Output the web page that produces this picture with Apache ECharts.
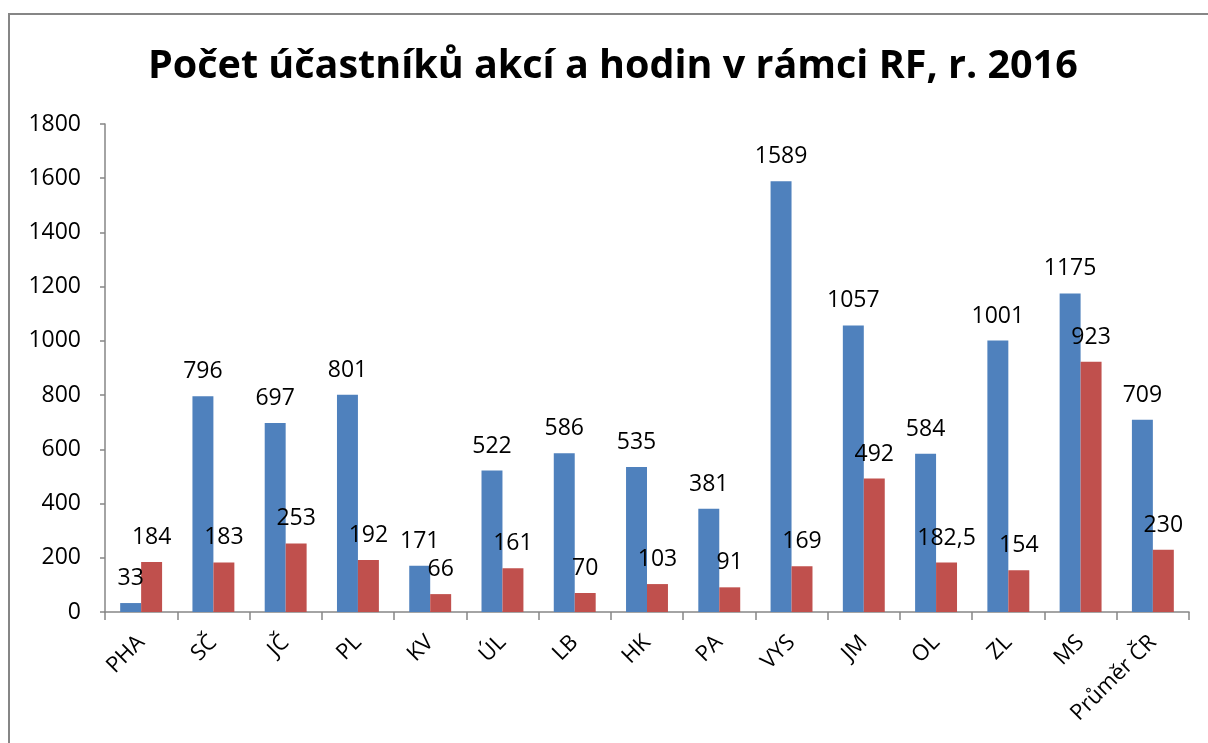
<!DOCTYPE html>
<html>
<head>
<meta charset="utf-8">
<script src="https://cdn.jsdelivr.net/npm/echarts@6/dist/echarts.min.js"></script>
<style>
  html, body { margin: 0; padding: 0; background: #fff; }
  #frame { position: absolute; left: 8px; top: 13px; width: 1300px; height: 800px;
           border-left: 2px solid #868686; border-top: 2px solid #868686; }
  #chart { position: absolute; left: 0; top: 0; width: 1208px; height: 743px; }
</style>
</head>
<body>
<div id="frame"></div>
<div id="chart"></div>
<script>
const categories = ['PHA', 'SČ', 'JČ', 'PL', 'KV', 'ÚL', 'LB', 'HK', 'PA', 'VYS', 'JM', 'OL', 'ZL', 'MS', 'Průměr ČR'];
const participants = [33, 796, 697, 801, 171, 522, 586, 535, 381, 1589, 1057, 584, 1001, 1175, 709];
const hours = [184, 183, 253, 192, 66, 161, 70, 103, 91, 169, 492, 182.5, 154, 923, 230];
const yTicks = [0, 200, 400, 600, 800, 1000, 1200, 1400, 1600, 1800];

const font = '"Open Sans", "Liberation Sans", sans-serif';
const chart = echarts.init(document.getElementById('chart'));

const barLabel = {
  show: true,
  position: 'top',
  distance: 13,
  color: '#000',
  fontFamily: font,
  fontSize: 23,
  formatter: p => String(p.value).replace('.', ',')
};

chart.setOption({
  animation: false,
  title: {
    text: 'Počet účastníků akcí a hodin v rámci RF, r. 2016',
    left: 143,
    top: 42,
    textStyle: { fontFamily: font, fontSize: 39.5, fontWeight: 'bold', color: '#000' }
  },
  grid: { left: 105, right: 19, top: 124, bottom: 131 },
  xAxis: {
    type: 'category',
    data: categories,
    axisLine: { lineStyle: { color: '#868686', width: 1.5 } },
    axisTick: { show: true, length: 8, lineStyle: { color: '#868686', width: 1.5 } },
    axisLabel: { rotate: 45, margin: 27, color: '#000', fontFamily: font, fontSize: 22, interval: 0 }
  },
  yAxis: {
    type: 'value',
    min: yTicks[0],
    max: yTicks[yTicks.length - 1],
    interval: 200,
    axisLine: { show: true, lineStyle: { color: '#868686', width: 1.5 } },
    axisTick: { show: true, inside: false, length: 5, lineStyle: { color: '#868686', width: 1.5 } },
    splitLine: { show: false },
    axisLabel: { margin: 24, color: '#000', fontFamily: font, fontSize: 23, formatter: v => String(v) }
  },
  series: [
    {
      name: 'Účastníci',
      type: 'bar',
      data: participants,
      barGap: '0%',
      barCategoryGap: '42%',
      itemStyle: { color: '#4F81BD' },
      label: barLabel
    },
    {
      name: 'Hodiny',
      type: 'bar',
      data: hours,
      itemStyle: { color: '#C0504D' },
      label: barLabel
    }
  ]
});
</script>
</body>
</html>
